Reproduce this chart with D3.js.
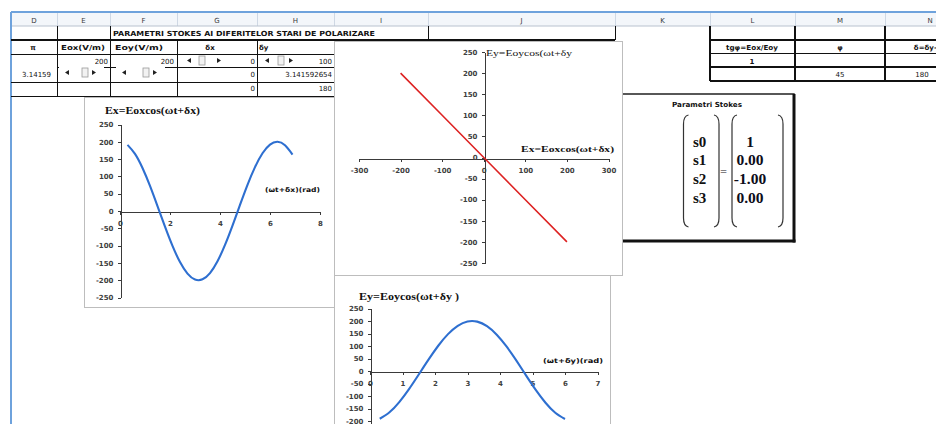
<!DOCTYPE html>
<html>
<head>
<meta charset="utf-8">
<script src="https://cdn.jsdelivr.net/npm/d3@7"></script>
<style>
  html, body { margin: 0; padding: 0; background: #fff; }
  svg { display: block; }
  .hdr { font-family: "DejaVu Sans", sans-serif; font-size: 7px; fill: #3a3a3a; }
  .cell { font-family: "DejaVu Sans", sans-serif; font-size: 7px; fill: #111; }
  .cellb { font-family: "DejaVu Sans", sans-serif; font-size: 7px; font-weight: bold; fill: #111; }
  .axis text { font-family: "DejaVu Sans", sans-serif; font-size: 7px; font-weight: bold; fill: #404040; }
  .axis path, .axis line { stroke: #3a3a3a; stroke-width: 1; shape-rendering: crispEdges; }
</style>
</head>
<body>
<svg id="sheet" width="936" height="424"></svg>
<script>
// ---- worksheet content ----
const columnLetters = ["D", "E", "F", "G", "H", "I", "J", "K", "L", "M", "N"];
const sheetTitle = "PARAMETRI  STOKES AI  DIFERITELOR STARI DE POLARIZARE";
const inputHeaders = ["π", "Eox(V/m)", "Eoy(V/m)", "δx", "δy"];
const amplitudeCells = ["200", "200"];
const deltaXCells = ["0", "0", "0"];
const deltaYCells = ["100", "3.141592654", "180"];
const piCell = "3.14159";
const resultHeaders = ["tgφ=Eox/Eoy", "φ", "δ=δy-δx"];
const tanPhiCell = "1";
const phiCell = "45";
const deltaCell = "180";

// ---- Ex = Eox cos(ωt + δx) ----
const phaseX = [0.3, 0.6, 0.9, 1.2, 1.5, 1.8, 2.1, 2.4, 2.7, 3.0, 3.3, 3.6,
                3.9, 4.2, 4.5, 4.8, 5.1, 5.4, 5.7, 6.0, 6.3, 6.6, 6.9];
const fieldX = [191.1, 165.1, 124.3, 72.5, 14.1, -45.4, -101.0, -147.5, -180.8, -198.0, -197.5, -179.4,
                -145.2, -98.1, -42.2, 17.5, 75.6, 126.9, 166.9, 192.0, 200.0, 190.0, 163.2];

// ---- Ey = Eoy cos(ωt + δy) ----
const phaseY = [0.3, 0.6, 0.9, 1.2, 1.5, 1.8, 2.1, 2.4, 2.7, 3.0,
                3.3, 3.6, 3.9, 4.2, 4.5, 4.8, 5.1, 5.4, 5.7, 6.0];
const fieldY = [-191.1, -165.1, -124.3, -72.5, -14.1, 45.4, 101.0, 147.5, 180.8, 198.0,
                197.5, 179.4, 145.2, 98.1, 42.2, -17.5, -75.6, -126.9, -166.9, -192.0];

// ---- polarisation trace Ey(Ex) ----
const traceEx = [-200, -100, 0, 100, 200];
const traceEy = [200, 100, 0, -100, -200];

// ---- axis ticks ----
const exPhaseTicks = [0, 2, 4, 6, 8];
const eyPhaseTicks = [0, 1, 2, 3, 4, 5, 6, 7];
const fieldTicks = [-250, -200, -150, -100, -50, 0, 50, 100, 150, 200, 250];
const traceTicksX = [-300, -200, -100, 0, 100, 200, 300];
const eyFieldTicks = [-200, -150, -100, -50, 0, 50, 100, 150, 200, 250];

// ---- Stokes parameters ----
const stokesNames = ["s0", "s1", "s2", "s3"];
const stokesValues = ["1", "0.00", "-1.00", "0.00"];

// ================= drawing =================
const svg = d3.select("#sheet");
svg.append("rect").attr("width", 936).attr("height", 424).attr("fill", "#fff");

// column grid of the sheet
const colEdges = [11, 57, 110, 177, 257, 334, 428, 615, 710, 795, 885, 975];

// header strip with column letters
const hdr = svg.append("g");
hdr.append("rect").attr("x", 11).attr("y", 13).attr("width", 925).attr("height", 13).attr("fill", "#f3f6fa");
columnLetters.forEach((c, i) => {
  const x0 = colEdges[i], x1 = colEdges[i + 1];
  hdr.append("line").attr("x1", x1 + 0.5).attr("x2", x1 + 0.5).attr("y1", 13).attr("y2", 26)
    .attr("stroke", "#cfd8e4");
  hdr.append("text").attr("class", "hdr").attr("x", (x0 + x1) / 2).attr("y", 22.5)
    .attr("text-anchor", "middle").text(c);
});
hdr.append("line").attr("x1", 11).attr("x2", 936).attr("y1", 26).attr("y2", 26).attr("stroke", "#b8c2cf");

// blue frame lines
svg.append("line").attr("x1", 11).attr("x2", 936).attr("y1", 12).attr("y2", 12)
  .attr("stroke", "#6ea2dc").attr("stroke-width", 2);
svg.append("line").attr("x1", 11).attr("x2", 11).attr("y1", 12).attr("y2", 424)
  .attr("stroke", "#6ea2dc").attr("stroke-width", 2);

// cell borders
const grid = svg.append("g").attr("stroke", "#111").attr("shape-rendering", "crispEdges");
function hline(x1, x2, y, w = 1) { grid.append("line").attr("x1", x1).attr("x2", x2).attr("y1", y).attr("y2", y).attr("stroke-width", w); }
function vline(x, y1, y2, w = 1) { grid.append("line").attr("x1", x).attr("x2", x).attr("y1", y1).attr("y2", y2).attr("stroke-width", w); }

[57, 110].forEach(x => vline(x, 26, 97));
[177, 257, 334].forEach(x => vline(x, 40, 97));
[428, 615].forEach(x => vline(x, 26, 40));
hline(11, 615, 40, 1.6);
hline(11, 334, 54.5);
hline(57, 334, 67);
hline(11, 334, 82);
hline(11, 334, 96.5);

// result block L..N
[710, 795, 885].forEach(x => vline(x, 26, 81, 1.8));
hline(710, 936, 40, 1.8);
hline(710, 936, 53.5, 1.4);
hline(710, 936, 67, 1.4);
hline(710, 936, 81, 1.8);

// cell texts
const txt = svg.append("g");
function put(x, y, s, cls, anchor = "start", len = null) {
  const t = txt.append("text").attr("class", cls).attr("x", x).attr("y", y).attr("text-anchor", anchor).text(s);
  if (len) t.attr("textLength", len).attr("lengthAdjust", "spacingAndGlyphs");
  return t;
}
put(113, 36, sheetTitle, "cellb", "start", 262);
put(33, 50, inputHeaders[0], "cellb", "middle");
put(61, 50, inputHeaders[1], "cellb", "start", 44);
put(115, 50, inputHeaders[2], "cellb", "start", 48);
put(210, 50, inputHeaders[3], "cellb", "middle");
put(259, 50, inputHeaders[4], "cellb", "start");

put(108, 63.5, amplitudeCells[0], "cell", "end");
put(174, 63.5, amplitudeCells[1], "cell", "end");
put(255, 63.5, deltaXCells[0], "cell", "end");
put(255, 77, deltaXCells[1], "cell", "end");
put(255, 90.5, deltaXCells[2], "cell", "end");
put(332, 63.5, deltaYCells[0], "cell", "end");
put(332, 77, deltaYCells[1], "cell", "end");
put(332, 90.5, deltaYCells[2], "cell", "end");
put(51, 76.5, piCell, "cell", "end");

put(752, 50, resultHeaders[0], "cellb", "middle", 52);
put(840, 50, resultHeaders[1], "cellb", "middle");
put(930, 50, resultHeaders[2], "cellb", "middle");
put(752, 63.5, tanPhiCell, "cellb", "middle");
put(840, 77, phiCell, "cell", "middle");
put(922, 77, deltaCell, "cell", "middle");

// scroll-bar form controls sitting on the input cells
function scrollBar(x0, x1, yc, thumbX) {
  const g = svg.append("g");
  g.append("rect").attr("x", x0).attr("y", yc - 5.5).attr("width", x1 - x0).attr("height", 11).attr("fill", "#fff");
  g.append("path").attr("d", `M${x0 + 6},${yc} l4,-2.5 v5 z`).attr("fill", "#222");
  g.append("path").attr("d", `M${x1 - 8},${yc} l-4,-2.5 v5 z`).attr("fill", "#222");
  g.append("rect").attr("x", thumbX).attr("y", yc - 4.5).attr("width", 6).attr("height", 9)
    .attr("fill", "#f2f2f2").attr("stroke", "#9a9a9a").attr("stroke-width", 0.8);
}
scrollBar(59, 104, 72.5, 82);
scrollBar(116, 165, 72.5, 143);
scrollBar(181, 229, 60.5, 199);
scrollBar(259, 301, 60.5, 278);

// ---------- helpers for the charts ----------
function frame(x, y, w, h) {
  svg.append("rect").attr("x", x + 0.5).attr("y", y + 0.5).attr("width", w).attr("height", h)
    .attr("fill", "#fff").attr("stroke", "#bdbdbd").attr("stroke-width", 1);
}
function axes(g, x, y, xt, yt) {
  g.append("g").attr("class", "axis").attr("transform", `translate(0,${Math.round(y(0)) + 0.5})`)
    .call(d3.axisBottom(x).tickValues(xt).tickSize(3).tickSizeOuter(0).tickPadding(7).tickFormat(d => String(d)));
  g.append("g").attr("class", "axis").attr("transform", `translate(${Math.round(x(0)) + 0.5},0)`)
    .call(d3.axisLeft(y).tickValues(yt).tickSize(3).tickSizeOuter(0).tickPadding(4).tickFormat(d => String(d)));
}
function label(x, y, s, opts) {
  const t = svg.append("text").attr("x", x).attr("y", y).text(s)
    .attr("font-family", opts.family).attr("font-size", opts.size).attr("font-weight", opts.weight || "normal")
    .attr("fill", opts.fill || "#111");
  if (opts.len) t.attr("textLength", opts.len).attr("lengthAdjust", "spacingAndGlyphs");
  if (opts.anchor) t.attr("text-anchor", opts.anchor);
  return t;
}
const serif = "'Liberation Serif', 'Times New Roman', serif";
const sans = "'DejaVu Sans', sans-serif";

// ---------- Ex(ωt) chart ----------
frame(84, 97, 250, 210);
const gx = svg.append("g");
const xEx = d3.scaleLinear().domain([0, 8]).range([120, 320]);
const yEx = d3.scaleLinear().domain([-250, 250]).range([297.5, 124.5]);
axes(gx, xEx, yEx, exPhaseTicks, fieldTicks);
gx.append("path").datum(phaseX.map((t, i) => [t, fieldX[i]]))
  .attr("fill", "none").attr("stroke", "#2e6fd0").attr("stroke-width", 2.1)
  .attr("d", d3.line().x(d => xEx(d[0])).y(d => yEx(d[1])).curve(d3.curveNatural));
label(105, 114, "Ex=Eoxcos(ωt+δx)", { family: serif, size: 10.5, weight: "bold", len: 95 });
label(265, 191.5, "(ωt+δx)(rad)", { family: sans, size: 6.5, weight: "bold", len: 55 });

// ---------- Stokes parameter panel ----------
const sp = svg.append("g");
sp.append("rect").attr("x", 622).attr("y", 94).attr("width", 172).attr("height", 147)
  .attr("fill", "#fff").attr("stroke", "#111").attr("stroke-width", 1.4);
sp.append("line").attr("x1", 794).attr("x2", 794).attr("y1", 94).attr("y2", 242.5).attr("stroke", "#111").attr("stroke-width", 3);
sp.append("line").attr("x1", 622).attr("x2", 795.5).attr("y1", 241).attr("y2", 241).attr("stroke", "#111").attr("stroke-width", 3);
label(707, 106.5, "Parametri Stokes", { family: sans, size: 7, weight: "bold", anchor: "middle", len: 70 });
function bracket(x, dir) {
  // dir = 1 for "(" and -1 for ")"
  const top = 115, bot = 227, r = 5 * dir;
  sp.append("path")
    .attr("d", `M${x + r},${top} Q${x},${top + 1} ${x},${top + 9} L${x},${bot - 9} Q${x},${bot - 1} ${x + r},${bot}`)
    .attr("fill", "none").attr("stroke", "#333").attr("stroke-width", 1.2);
}
bracket(683.5, 1); bracket(719, -1); bracket(732, 1); bracket(783, -1);
label(723.5, 174, "=", { family: sans, size: 9, anchor: "middle" });
const rowY = [146.5, 165, 184, 203];
stokesNames.forEach((s, i) => label(693, rowY[i], s, { family: serif, size: 15, weight: "bold" }));
stokesValues.forEach((s, i) => label(750, rowY[i], s, { family: serif, size: 15.5, weight: "bold", anchor: "middle", fill: "#0d0d1a" }));

// ---------- Ey(Ex) polarisation chart ----------
frame(334, 41, 288, 234);
const gc = svg.append("g");
const xTr = d3.scaleLinear().domain([-300, 300]).range([359, 608.5]);
const yTr = d3.scaleLinear().domain([-250, 250]).range([263, 52]);
axes(gc, xTr, yTr, traceTicksX, fieldTicks);
gc.append("path").datum(traceEx.map((v, i) => [v, traceEy[i]]))
  .attr("fill", "none").attr("stroke", "#dd2222").attr("stroke-width", 1.6)
  .attr("d", d3.line().x(d => xTr(d[0])).y(d => yTr(d[1])));
label(486, 55.5, "Ey=Eoycos(ωt+δy", { family: serif, size: 9, len: 86 });
label(521, 152, "Ex=Eoxcos(ωt+δx)", { family: serif, size: 9, weight: "bold", len: 93 });

// ---------- Ey(ωt) chart ----------
frame(334, 275, 276, 160);
const gy = svg.append("g");
const xEy = d3.scaleLinear().domain([0, 7]).range([370, 597.5]);
const yEy = d3.scaleLinear().domain([-250, 250]).range([433.5, 308.5]);
axes(gy, xEy, yEy, eyPhaseTicks, eyFieldTicks);
gy.append("path").datum(phaseY.map((t, i) => [t, fieldY[i]]))
  .attr("fill", "none").attr("stroke", "#2e6fd0").attr("stroke-width", 2.1)
  .attr("d", d3.line().x(d => xEy(d[0])).y(d => yEy(d[1])).curve(d3.curveNatural));
label(359, 300, "Ey=Eoycos(ωt+δy )", { family: serif, size: 10.5, weight: "bold", len: 100 });
label(543, 362.5, "(ωt+δy)(rad)", { family: sans, size: 6.5, weight: "bold", len: 60 });
</script>
</body>
</html>
